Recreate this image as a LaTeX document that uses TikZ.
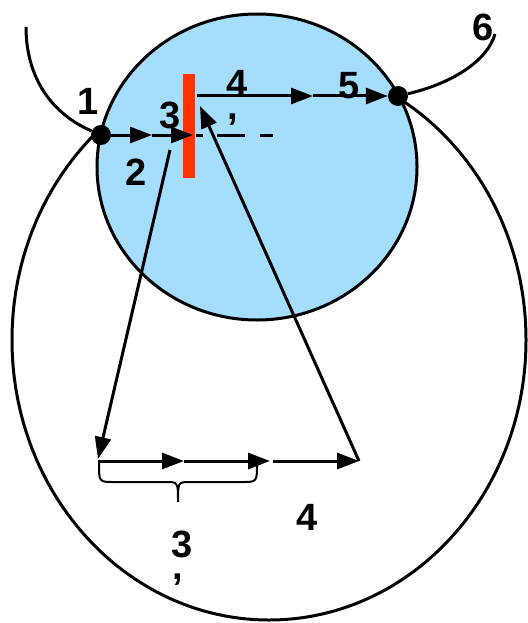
\documentclass[tikz,border=0pt]{standalone}
\usepackage{fontspec}
\setmainfont{Liberation Sans}
\usetikzlibrary{arrows.meta}
\definecolor{skyb}{RGB}{164,222,252}
\definecolor{redbar}{RGB}{255,51,0}
\begin{document}
\begin{tikzpicture}[x=1pt,y=-1pt,
  ln/.style={line width=3pt},
  arr/.style={line width=3pt,-{Triangle[length=22pt,width=16pt]}},
  dot/.style={circle,fill=black,inner sep=0pt,minimum size=20pt},
  lbl/.style={font=\bfseries\fontsize{38}{38}\selectfont,inner sep=0pt},
  lbl2/.style={font=\bfseries\fontsize{38}{24}\selectfont,inner sep=0pt,align=center,anchor=base}]
\useasboundingbox (0,0) rectangle (527,623);
% big circle
\draw[ln] (269,340) ellipse [x radius=257pt, y radius=280pt];
% blue circle
\filldraw[ln,fill=skyb] (257,167) ellipse [x radius=160pt, y radius=153pt];
% red bar
\node[fill=redbar,minimum width=12pt,minimum height=104pt,inner sep=0pt] (bar) at (189,126) {};
% dots
\node[dot] (p1) at (101,135) {};
\node[dot] (p5) at (398,96) {};
% coordinates
\coordinate (c1) at (26,27);
\coordinate (c6) at (495,34);
\coordinate (m1) at (152,135);
\coordinate (b1) at (193,135);
\coordinate (d0) at (196,135);
\coordinate (d1) at (273,135);
\coordinate (t0) at (197,96);
\coordinate (t1) at (313,96);
\coordinate (a0) at (170,150);
\coordinate (a1) at (98,459);
\coordinate (h0) at (98,461);
\coordinate (h1) at (184,461);
\coordinate (h2) at (270,461);
\coordinate (h3) at (273,461);
\coordinate (h4) at (359,461);
\coordinate (u1) at (200,106);
% curves
\draw[ln] (c1) .. controls (26,78) and (52,114) .. (p1);
\draw[ln] (p5) .. controls (450,84) and (487,62) .. (c6);
% arrows
\draw[arr] (p1.center) -- (m1);
\draw[arr] (m1) -- (b1);
\draw[ln,dash pattern=on 7pt off 14pt on 28pt off 15pt on 13pt off 100pt] (d0) -- (d1);
\draw[arr] (t0) -- (t1);
\draw[arr] (t1) -- (p5);
\draw[arr] (a0) -- (a1);
\draw[arr] (h0) -- (h1);
\draw[arr] (h1) -- (h2);
\draw[arr] (h3) -- (h4);
\draw[arr] (h4) -- (u1);
% brace
\draw[line width=2pt] (99,463) .. controls (99,482) .. (114,482) -- (166,482)
  .. controls (178,482) .. (178,502) .. controls (178,482) .. (190,482) -- (242,482)
  .. controls (257,482) .. (257,463);
% labels
\node[lbl] (l1) at (88,101) {1};
\node[lbl] (l2) at (136,172) {2};
\node[lbl] (l3) at (170,115) {3};
\node[lbl2] (l4) at (237,119) {4\\[-2pt]\hspace*{-8pt},};
\node[lbl] (l5) at (349,86) {5};
\node[lbl] (l6) at (483,27) {6};
\node[lbl] (l4b) at (307,517) {4};
\node[lbl2] (l3b) at (182,579) {3\\[-2pt]\hspace*{-8pt},};
\end{tikzpicture}
\end{document}
